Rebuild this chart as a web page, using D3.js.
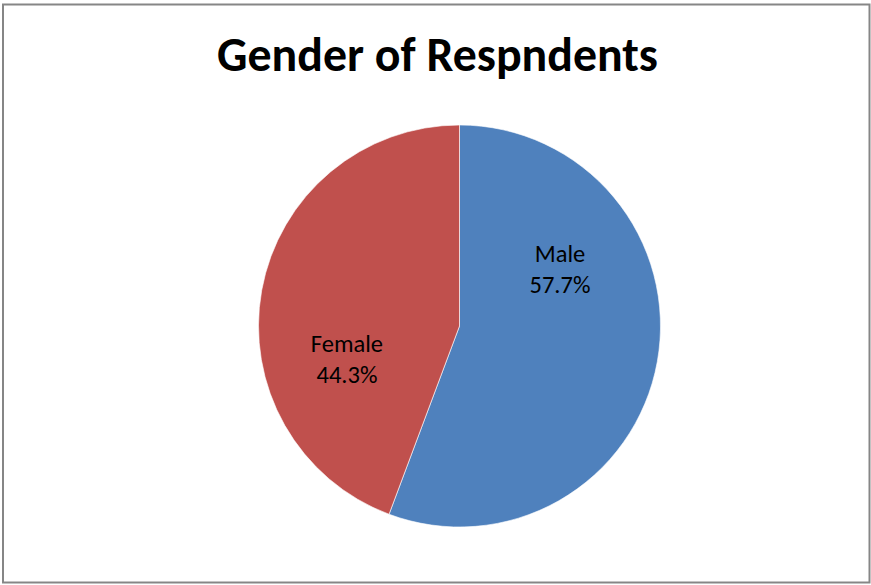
<!DOCTYPE html>
<html>
<head>
<meta charset="utf-8">
<script src="https://cdn.jsdelivr.net/npm/d3@7"></script>
<style>
  html, body { margin: 0; padding: 0; background: #fff; }
  svg { display: block; }
</style>
</head>
<body>
<svg id="chart" width="871" height="585"></svg>
<script>
// ---- data ----
const title = "Gender of Respndents";
const categories = ["Male", "Female"];
// slice sizes as drawn in the reference
const values = [55.7, 44.3];
// percentage labels as printed in the reference
const labelTexts = ["57.7%", "44.3%"];
const colors = ["#4F81BD", "#C0504D"];

// ---- layout ----
const W = 871, H = 585;
const cx = 459.5, cy = 326, R = 201;
// label anchor offsets (relative to centre, in units of radius)
const labelPos = [[0.5, -0.32], [-0.56, 0.13]];

const svg = d3.select("#chart");

svg.append("rect")
  .attr("x", 3).attr("y", 4.5)
  .attr("width", 866.5).attr("height", 578)
  .attr("fill", "#fff")
  .attr("stroke", "#868686")
  .attr("stroke-width", 2);

const fontFam = "Carlito, Lato, 'Open Sans', sans-serif";

const t = svg.append("text")
  .attr("x", 437.5).attr("y", 71)
  .attr("text-anchor", "middle")
  .attr("font-family", fontFam)
  .attr("font-weight", "bold")
  .attr("font-size", 36)
  .attr("fill", "#000")
  .text(title);
// fit the title width to the reference (~441px)
const tw = t.node().getComputedTextLength();
t.attr("font-size", 36 * 441 / tw);

const pie = d3.pie().sort(null).value(d => d)(values);
const arc = d3.arc().innerRadius(0).outerRadius(R);

const g = svg.append("g").attr("transform", `translate(${cx},${cy})`);
g.selectAll("path")
  .data(pie)
  .join("path")
  .attr("d", arc)
  .attr("fill", (d, i) => colors[i])
  .attr("stroke", "#fff")
  .attr("stroke-width", 0.6);

const lab = g.selectAll("text.lab")
  .data(pie)
  .join("text")
  .attr("class", "lab")
  .attr("text-anchor", "middle")
  .attr("font-family", fontFam)
  .attr("font-size", 24.5)
  .attr("fill", "#000")
  .attr("transform", (d, i) => `translate(${labelPos[i][0] * R},${labelPos[i][1] * R})`);

lab.append("tspan").attr("x", 0).attr("y", 0).text((d, i) => categories[i]);
lab.append("tspan").attr("x", 0).attr("y", 31).text((d, i) => labelTexts[i]);
</script>
</body>
</html>
